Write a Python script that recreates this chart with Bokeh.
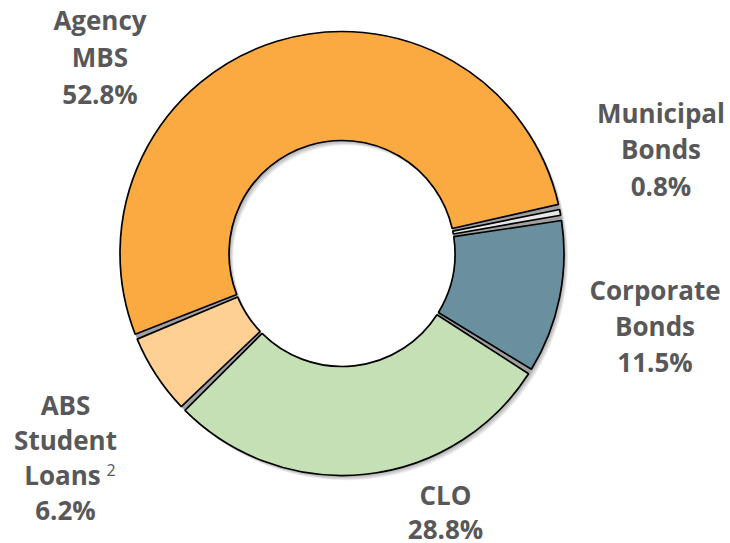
import numpy as np
from bokeh.plotting import figure
from bokeh.models import Range1d, ColumnDataSource
from bokeh.core.properties import value
from bokeh.embed import file_html
from bokeh.resources import INLINE

# ---- data ----
categories = ["Agency MBS", "Municipal Bonds", "Corporate Bonds", "CLO", "ABS Student Loans"]
shares = [52.8, 0.8, 11.5, 28.8, 6.2]
colors = ["#FBA941", "#E6E6E6", "#6A8F9F", "#C5E0B4", "#FED094"]
label_lines = [["Agency", "MBS", "52.8%"],
               ["Municipal", "Bonds", "0.8%"],
               ["Corporate", "Bonds", "11.5%"],
               ["CLO", "28.8%"],
               ["ABS", "Student", "Loans", "6.2%"]]

# ---- layout ----
W, H = 730, 543
def sx(x): return x
def sy(y): return H - y

cx, cy = sx(341.5), sy(253)
r_out, r_in = 222, 113
start_deg = 202.0          # where the first slice begins, slices run clockwise
gap = 2.0 / 167            # half-gap angle (rad)

# label anchors (screen coords: centre x, first baseline, line step)
label_pos = [(99.5, 28, 37), (660.5, 121, 36.5), (654.5, 298, 36), (445, 503, 34), (65, 413, 35)]
text_shift = 9             # compensation for renderer's baseline placement

p = figure(width=W, height=H, output_backend="svg", toolbar_location=None, title=None,
           x_range=Range1d(0, W), y_range=Range1d(0, H), min_border=0,
           x_axis_type=None, y_axis_type=None)
p.grid.visible = False
p.outline_line_color = None
p.background_fill_color = "white"
p.border_fill_color = "white"

# shadow
for k in range(1, 7):
    p.annulus(x=cx + k * 0.7, y=cy - k * 0.8, inner_radius=r_in, outer_radius=r_out,
              fill_color="black", fill_alpha=0.06, line_color=None)
# gray gap base
p.annulus(x=cx, y=cy, inner_radius=r_in, outer_radius=r_out,
          fill_color="#a0a0a0", line_color=None)

tot = sum(shares)
cum = np.concatenate([[0], np.cumsum(shares)]) / tot * 2 * np.pi
S = np.deg2rad(start_deg)
starts = [S - cum[i + 1] + gap for i in range(len(shares))]
ends = [S - cum[i] - gap for i in range(len(shares))]
src = ColumnDataSource(dict(start=starts, end=ends, color=colors, cat=categories))
p.annular_wedge(x=cx, y=cy, inner_radius=r_in, outer_radius=r_out,
                start_angle="start", end_angle="end", fill_color="color",
                line_color="black", line_width=1.7, source=src)

tc = "#58585A"
for lines, (lx, ly, step) in zip(label_lines, label_pos):
    xs, ys, ts = [], [], []
    for j, t in enumerate(lines):
        xx = lx
        if t == "Loans":
            xx = lx - 3
        xs.append(sx(xx)); ys.append(sy(ly + j * step - text_shift)); ts.append(t)
    p.text(x=xs, y=ys, text=ts, text_font=value("Open Sans"), text_font_style="bold",
           text_font_size="26px", text_color=tc, text_align="center",
           text_baseline="alphabetic")

# superscript footnote marker
p.text(x=[sx(106)], y=[sy(474 - 5)], text=["2"], text_font=value("Open Sans"),
       text_font_size="16px", text_color=tc, text_align="left", text_baseline="alphabetic")

open("out.html", "w").write(file_html(p, INLINE))
